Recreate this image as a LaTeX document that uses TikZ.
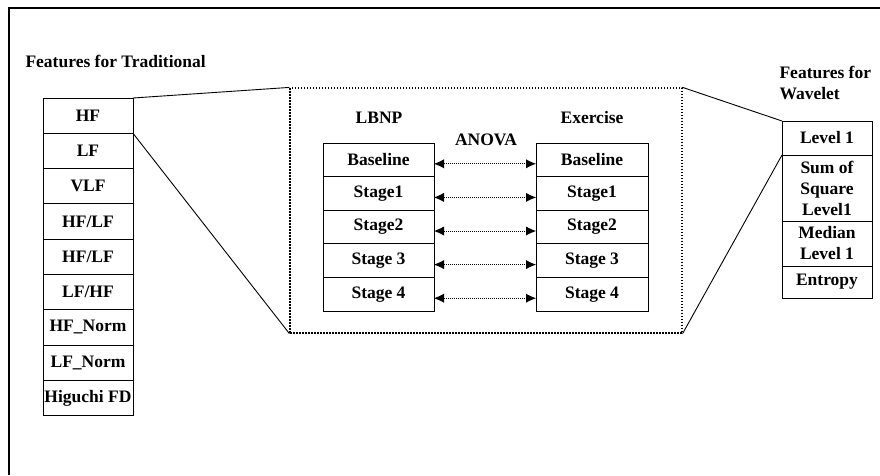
\documentclass[tikz,border=0pt]{standalone}
\usepackage{fontspec}
\setmainfont{Liberation Serif}
\usetikzlibrary{positioning,arrows.meta}

\begin{document}
\begin{tikzpicture}[x=1pt,y=-1pt,
  every node/.style={font=\fontsize{17.5}{21}\selectfont\bfseries},
  cell/.style={draw,line width=0.9pt,outer sep=0pt,inner sep=0pt,align=center},
  trad/.style={cell,minimum width=90pt,minimum height=35.3pt},
  stage/.style={cell,minimum width=111pt,minimum height=33.6pt},
  wave/.style={cell,minimum width=90pt},
  zoomline/.style={line width=0.9pt},
  tip/.tip={Latex[length=10pt,width=9pt,line width=0pt]},
  anova/.style={tip-tip,
    dash pattern=on 1pt off 1pt,line width=0.8pt,transform canvas={yshift=-4pt}}]
\useasboundingbox (0,0) rectangle (880,475);
\draw[line width=1.5pt] (9,475) -- (9,8) -- (880,8);

% traditional features
\node[anchor=west] (ttitle) at (22,61) {Features for Traditional};
\node[trad,anchor=north] (t1) at (88,98) {HF};
\node[trad,below=0pt of t1] (t2) {LF};
\node[trad,below=0pt of t2] (t3) {VLF};
\node[trad,below=0pt of t3] (t4) {HF/LF};
\node[trad,below=0pt of t4] (t5) {HF/LF};
\node[trad,below=0pt of t5] (t6) {LF/HF};
\node[trad,below=0pt of t6] (t7) {HF\_Norm};
\node[trad,below=0pt of t7] (t8) {LF\_Norm};
\node[trad,below=0pt of t8] (t9) {Higuchi FD};

% comparison box
\node[draw,dash pattern=on 1.5pt off 1.5pt,line width=1.2pt,
  minimum width=392pt,minimum height=245pt] (cmp) at (486,210.5) {};
\node (lbnp) at (379,118) {LBNP};
\node (exer) at (592,118) {Exercise};
\node (anv) at (486,140) {ANOVA};

\node[stage,anchor=north] (l1) at (378.5,143) {Baseline};
\node[stage,below=0pt of l1] (l2) {Stage1};
\node[stage,below=0pt of l2] (l3) {Stage2};
\node[stage,below=0pt of l3] (l4) {Stage 3};
\node[stage,below=0pt of l4] (l5) {Stage 4};

\node[stage,anchor=north,minimum width=112pt] (e1) at (592,143) {Baseline};
\node[stage,minimum width=112pt,below=0pt of e1] (e2) {Stage1};
\node[stage,minimum width=112pt,below=0pt of e2] (e3) {Stage2};
\node[stage,minimum width=112pt,below=0pt of e3] (e4) {Stage 3};
\node[stage,minimum width=112pt,below=0pt of e4] (e5) {Stage 4};

\foreach \i in {1,...,5}
  \draw[anova] (l\i.east) -- (e\i.west);

% wavelet features
\node[anchor=north west,align=left] (wtitle) at (776,63) {Features for\\Wavelet};
\node[wave,anchor=north,minimum height=34pt] (w1) at (827,121) {Level 1};
\node[wave,minimum height=66pt,below=0pt of w1] (w2) {Sum of\\Square\\Level1};
\node[wave,minimum height=45pt,below=0pt of w2] (w3) {Median\\Level 1};
\node[wave,minimum height=32pt,below=0pt of w3] (w4) {Entropy};

% zoom lines
\draw[zoomline] (t1.north east) -- (cmp.north west);
\draw[zoomline] (t1.south east) -- (cmp.south west);
\draw[zoomline] (cmp.north east) -- (w1.north west);
\draw[zoomline] (cmp.south east) -- (w1.south west);
\end{tikzpicture}
\end{document}
